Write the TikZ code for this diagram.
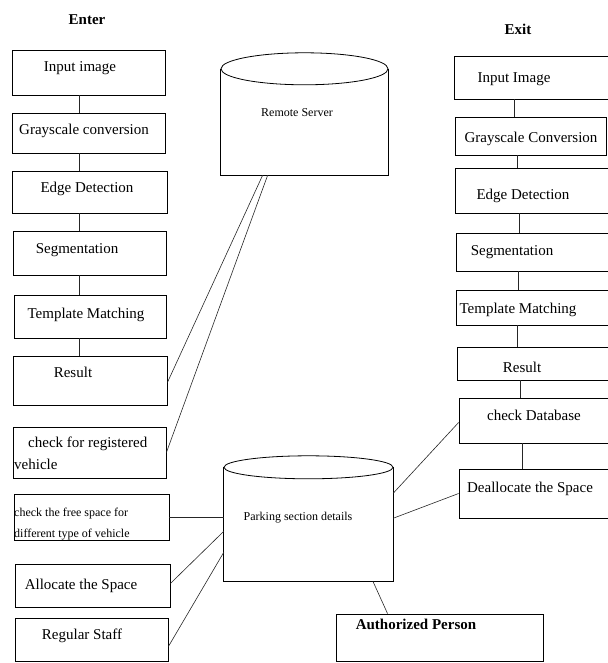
\documentclass[tikz,border=0pt]{standalone}
\usepackage{fontspec}
\setmainfont{Liberation Serif}
\usetikzlibrary{positioning, calc, math, shapes.geometric}
\tikzset{
stepbox/.style = {rectangle, draw, line width = 0.8pt, inner sep = 0pt},
steptext/.style = {anchor = base, inner sep = 0pt, font = \fontsize{15}{18}\selectfont},
smalltext/.style = {anchor = base west, inner sep = 0pt, align = left,
   font = \fontsize{12}{21}\selectfont},
headtext/.style = {anchor = base, inner sep = 0pt, font = \fontsize{15}{18}\selectfont\bfseries},
storetext/.style = {anchor = base, inner sep = 0pt, font = \fontsize{12}{14}\selectfont},
store/.style = {rectangle, inner sep = 0pt},
storetop/.style = {ellipse, draw, line width = 0.8pt, inner sep = 0pt},
storeline/.style = {line width = 0.8pt},
link/.style = {line width = 0.6pt, black!85}
}

\begin{document}
\begin{tikzpicture}[x = 1pt, y = -1pt]
\useasboundingbox (0,0) rectangle (607,663);

%% Enter side
\node [headtext] (enter) at (87,25) {Enter};
\foreach \nm/\xa/\ya/\xb/\yb/\tx/\ty/\txt in {
   l1/12/50/165/95/80/72/Input image,
   l2/12/113/165/153/84/135/Grayscale conversion,
   l3/12/171/167/213/87/192/Edge Detection,
   l4/13/231/166/275/77/253/Segmentation,
   l5/14/295/166/338/86/318/Template Matching,
   l6/13/356/167/405/73/377/Result,
   l7/13/427/166/478/0/0/,
   l8/14/494/169/540/0/0/,
   l9/15/564/170/607/81/589/Allocate the Space,
   l10/15/618/168/661/82/639/Regular Staff}{
   \tikzmath{\cx = (\xa + \xb)/2; \cy = (\ya + \yb)/2; \bw = \xb - \xa; \bh = \yb - \ya;}
   \node [stepbox, minimum width = \bw pt, minimum height = \bh pt] (\nm) at (\cx, \cy) {};
   \node [steptext] (t\nm) at (\tx, \ty) {\txt};
}
\node [smalltext, font = \fontsize{15}{22}\selectfont] (tl7a) at (14,469)
   {\hspace{14pt}check for registered\\vehicle};
\node [smalltext] (tl8a) at (14,537) {check the free space for\\different type of vehicle};

\foreach \a/\b in {l1/l2, l2/l3, l3/l4, l4/l5, l5/l6}
   \draw [link] (\a.south -| 79,0) -- (\b.north -| 79,0);

%% Exit side
\node [headtext] (exit) at (518,35) {Exit};
\foreach \nm/\xa/\ya/\xb/\yb/\tx/\ty/\txt in {
   r1/454/56/612/99/514/83/Input Image,
   r2/455/117/606/155/531/143/Grayscale Conversion,
   r3/455/168/612/213/523/199/Edge Detection,
   r4/456/233/612/271/512/255/Segmentation,
   r5/456/290/612/325/518/313/Template Matching,
   r6/457/347/612/380/522/372/Result,
   r7/459/398/612/443/534/420/check Database,
   r8/459/469/612/518/530/492/Deallocate the Space}{
   \tikzmath{\cx = (\xa + \xb)/2; \cy = (\ya + \yb)/2; \bw = \xb - \xa; \bh = \yb - \ya;}
   \node [stepbox, minimum width = \bw pt, minimum height = \bh pt] (\nm) at (\cx, \cy) {};
   \node [steptext] (t\nm) at (\tx, \ty) {\txt};
}

\foreach \a/\b/\x in {r1/r2/514, r2/r3/517, r3/r4/519, r4/r5/518, r5/r6/517, r6/r7/520, r7/r8/522}
   \draw [link] (\a.south -| \x,0) -- (\b.north -| \x,0);

%% Stores
\node [store, minimum width = 167pt, minimum height = 106pt] (srv) at (304.5,122) {};
\node [storetop, minimum width = 167pt, minimum height = 32pt] (srvtop) at (srv.north) {};
\draw [storeline] (srv.north west) -- (srv.south west) -- (srv.south east) -- (srv.north east);
\node [storetext] (tsrv) at (297,117) {Remote Server};

\node [store, minimum width = 169pt, minimum height = 113.5pt] (prk) at (308.5,524.25) {};
\node [storetop, minimum width = 169pt, minimum height = 23pt] (prktop) at (prk.north) {};
\draw [storeline] (prk.north west) -- (prk.south west) -- (prk.south east) -- (prk.north east);
\node [storetext] (tprk) at (298,520) {Parking section details};

%% Authorized person
\node [stepbox, minimum width = 207pt, minimum height = 47pt] (auth) at (439.5,637.5) {};
\node [headtext] (tauth) at (416,629) {Authorized Person};

%% Links to the stores
\draw [link] ($(srv.south west)!0.25!(srv.south east)$) -- ($(l6.east)+(0,2)$);
\draw [link] ($(srv.south west)!0.28!(srv.south east)$) -- (l7.east);
\draw [link] (l8.east) -- (l8.east -| prk.west);
\draw [link] ($(l9.east)+(0,-2)$) -- ($(prk.west)+(0,7)$);
\draw [link] ($(l10.east)+(0,7)$) -- ($(prk.west)+(0,28)$);
\draw [link] ($(prk.east)+(0,-31)$) -- ($(r7.west)+(0,2)$);
\draw [link] ($(prk.east)+(0,-6)$) -- (r8.west);
\draw [link] ($(prk.south west)!0.88!(prk.south east)$) -- ($(auth.north west)!0.25!(auth.north east)$);

\end{tikzpicture}
\end{document}
